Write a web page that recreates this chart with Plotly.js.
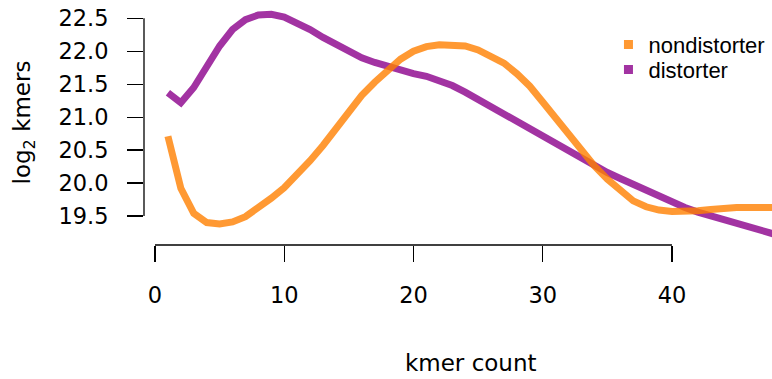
<!DOCTYPE html>
<html><head><meta charset="utf-8">
<script src="https://cdn.plot.ly/plotly-3.0.1.min.js"></script>
<style>html,body{margin:0;padding:0;background:#fff;overflow:hidden}</style>
</head><body><div id="chart" style="width:772px;height:379px"></div>
<script>
const kmerCount = [1,2,3,4,5,6,7,8,9,10,11,12,13,14,15,16,17,18,19,20,21,22,23,24,25,26,27,28,29,30,31,32,33,34,35,36,37,38,39,40,41,42,43,44,45,46,47,48];
const nondistorter = [20.71,19.92,19.54,19.40,19.38,19.41,19.49,19.62,19.77,19.93,20.12,20.34,20.57,20.83,21.10,21.33,21.53,21.72,21.88,22.00,22.07,22.10,22.10,22.08,22.02,21.93,21.82,21.66,21.47,21.23,20.98,20.72,20.48,20.26,20.06,19.89,19.73,19.64,19.59,19.57,19.57,19.58,19.60,19.62,19.63,19.63,19.63,19.63];
const distorter = [21.37,21.22,21.45,21.76,22.08,22.33,22.48,22.55,22.56,22.52,22.43,22.33,22.21,22.10,22.00,21.90,21.83,21.77,21.71,21.66,21.62,21.56,21.48,21.38,21.27,21.16,21.04,20.92,20.80,20.69,20.58,20.47,20.37,20.26,20.16,20.07,19.98,19.90,19.80,19.71,19.63,19.56,19.50,19.45,19.39,19.34,19.28,19.22];
const seriesNames = ['nondistorter', 'distorter'];
const xTickVals = [0, 10, 20, 30, 40];
const xTickText = ['0', '10', '20', '30', '40'];
const yTickVals = [19.5, 20.0, 20.5, 21.0, 21.5, 22.0, 22.5];
const yTickText = ['19.5', '20.0', '20.5', '21.0', '21.5', '22.0', '22.5'];
const xTitle = 'kmer count';
const yTitle = 'log<sub>2</sub> kmers';

const orange = 'rgba(255,128,0,0.8)';
const purple = 'rgba(139,0,139,0.8)';

const traces = [
  {x: kmerCount, y: distorter, mode: 'lines', line: {color: purple, width: 7}, showlegend: false, hoverinfo: 'skip'},
  {x: kmerCount, y: nondistorter, mode: 'lines', line: {color: orange, width: 7}, showlegend: false, hoverinfo: 'skip'},
  {x: [null], y: [null], mode: 'markers', name: seriesNames[0], marker: {symbol: 'square', size: 9, color: orange}, legend: 'legend'},
  {x: [null], y: [null], mode: 'markers', name: seriesNames[1], marker: {symbol: 'square', size: 9, color: purple}, legend: 'legend2'}
];

const legendBase = {xanchor: 'left', yanchor: 'middle', bgcolor: 'rgba(0,0,0,0)', borderwidth: 0,
  font: {family: 'Liberation Sans, Arial, sans-serif', size: 22, color: '#000'}};

const layout = {
  width: 772, height: 379,
  margin: {l: 144, r: 0, t: 0, b: 134, pad: 0},
  paper_bgcolor: '#fff', plot_bgcolor: '#fff',
  font: {family: 'DejaVu Sans, sans-serif', size: 22, color: '#000'},
  xaxis: {range: [-0.851, 47.74], showgrid: false, zeroline: false, showline: false,
    ticks: 'outside', ticklen: 16, tickwidth: 1.3, tickcolor: '#000',
    tickmode: 'array', tickvals: xTickVals, ticktext: xTickText, ticklabelstandoff: 14,
    tickfont: {size: 22.5}},
  yaxis: {range: [19.06, 22.778], showgrid: false, zeroline: false, showline: false,
    ticks: 'outside', ticklen: 16, tickwidth: 1.3, tickcolor: '#000',
    tickmode: 'array', tickvals: yTickVals, ticktext: yTickText, ticklabelstandoff: 14,
    tickfont: {size: 22.5},
    title: {text: yTitle, font: {size: 23}, standoff: 21}},
  shapes: [
    {type: 'line', xref: 'x', yref: 'paper', x0: xTickVals[0], x1: xTickVals[xTickVals.length - 1], y0: 0, y1: 0, line: {color: '#000', width: 1.3}},
    {type: 'line', xref: 'paper', yref: 'y', x0: 0, x1: 0, y0: yTickVals[0], y1: yTickVals[yTickVals.length - 1], line: {color: '#000', width: 1.3}}
  ],
  annotations: [
    {text: xTitle, xref: 'paper', yref: 'paper', x: 0.5207, y: -0.48, xanchor: 'center', yanchor: 'middle', showarrow: false, font: {size: 23}}
  ],
  legend: Object.assign({x: 0.7396, y: 0.818}, legendBase),
  legend2: Object.assign({x: 0.7396, y: 0.716}, legendBase)
};

Plotly.newPlot('chart', traces, layout, {displayModeBar: false, staticPlot: true});
</script>
</body></html>
